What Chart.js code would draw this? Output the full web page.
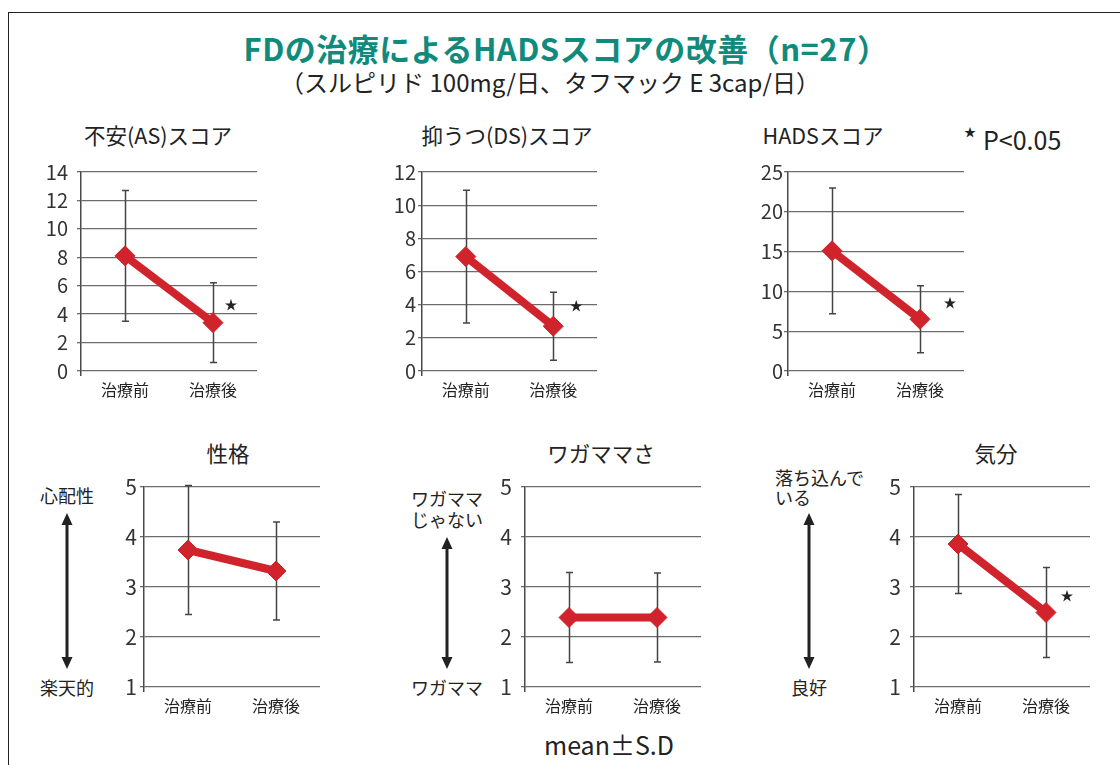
<!DOCTYPE html>
<html lang="ja">
<head>
<meta charset="utf-8">
<title>FDの治療によるHADSスコアの改善</title>
<script src="https://cdn.jsdelivr.net/npm/chart.js@4.4.1/dist/chart.umd.min.js"></script>
<style>
  html, body { margin: 0; padding: 0; background: #fff; }
  body {
    width: 1120px; height: 765px; position: relative; overflow: hidden;
    font-family: 'Noto Sans CJK JP', 'Noto Sans', sans-serif; color: #222;
  }
  .frame {
    position: absolute; left: 8px; top: 12px; width: 1140px; height: 800px;
    border: 1.5px solid #222; box-sizing: border-box;
  }
  .t { position: absolute; white-space: nowrap; line-height: 1; transform: translate(-50%, -50%); }
  .l { position: absolute; white-space: nowrap; line-height: 1; transform: translate(0, -50%); }
  .main { font-size: 31px; font-weight: 700; color: #108a7c; letter-spacing: 0.5px; }
  .sub { font-size: 24px; color: #222; }
  .ptitle { font-size: 21.5px; color: #222; }
  .note { font-size: 18px; color: #222; }
  .wrap { position: absolute; }
  svg.arrows { position: absolute; left: 0; top: 0; }
</style>
</head>
<body>
<div class="frame"></div>

<div class="t main" style="left:566px; top:47px;">FDの治療によるHADSスコアの改善（n=27）</div>
<div class="t sub" style="left:550px; top:82px;">（スルピリド 100mg/日、タフマック E 3cap/日）</div>

<div class="t ptitle" style="left:158px; top:135px;">不安(AS)スコア</div>
<div class="t ptitle" style="left:507px; top:135px;">抑うつ(DS)スコア</div>
<div class="t ptitle" style="left:823px; top:135px;">HADSスコア</div>
<div class="l" style="left:964px; top:132px; font-size:12px;">★</div>
<div class="l" style="left:983px; top:139px; font-size:25px;">P&lt;0.05</div>

<div class="t ptitle" style="left:228px; top:453px;">性格</div>
<div class="t ptitle" style="left:601px; top:453px;">ワガママさ</div>
<div class="t ptitle" style="left:996px; top:453px;">気分</div>

<div class="t note" style="left:67px; top:495px;">心配性</div>
<div class="t note" style="left:67px; top:687px;">楽天的</div>
<div class="t note" style="left:447px; top:498px;">ワガママ</div>
<div class="t note" style="left:447px; top:519px;">じゃない</div>
<div class="t note" style="left:447px; top:687px;">ワガママ</div>
<div class="l note" style="left:775px; top:477px;">落ち込んで</div>
<div class="l note" style="left:775px; top:497px;">いる</div>
<div class="t note" style="left:809px; top:687px;">良好</div>

<div class="t" style="left:609px; top:744px; font-size:25px;">mean±S.D</div>

<svg class="arrows" width="1120" height="765" viewBox="0 0 1120 765">
  <g fill="#222" stroke="#222">
    <line x1="67" y1="520" x2="67" y2="662" stroke-width="3"/>
    <path d="M67 513 L61.5 525 L72.5 525 Z" stroke="none"/>
    <path d="M67 669 L61.5 657 L72.5 657 Z" stroke="none"/>
    <line x1="447" y1="544" x2="447" y2="662" stroke-width="3"/>
    <path d="M447 537 L441.5 549 L452.5 549 Z" stroke="none"/>
    <path d="M447 669 L441.5 657 L452.5 657 Z" stroke="none"/>
    <line x1="809" y1="520" x2="809" y2="662" stroke-width="3"/>
    <path d="M809 513 L803.5 525 L814.5 525 Z" stroke="none"/>
    <path d="M809 669 L803.5 657 L814.5 657 Z" stroke="none"/>
  </g>
</svg>

<div class="wrap" id="w1"><canvas id="c1"></canvas></div>
<div class="wrap" id="w2"><canvas id="c2"></canvas></div>
<div class="wrap" id="w3"><canvas id="c3"></canvas></div>
<div class="wrap" id="w4"><canvas id="c4"></canvas></div>
<div class="wrap" id="w5"><canvas id="c5"></canvas></div>
<div class="wrap" id="w6"><canvas id="c6"></canvas></div>

<script>
// Categories (before / after treatment)
const categories = ['治療前', '治療後'];

// 不安 (AS) score: mean and SD
const asMean = [8.1, 3.4];
const asSd = [4.6, 2.8];

// 抑うつ (DS) score
const dsMean = [6.9, 2.7];
const dsSd = [4.0, 2.05];

// HADS total score
const hadsMean = [15.1, 6.5];
const hadsSd = [7.9, 4.2];

// 性格 (1 = 楽天的 … 5 = 心配性)
const personalityMean = [3.74, 3.32];
const personalitySd = [1.29, 0.98];

// ワガママさ (1 = ワガママ … 5 = ワガママじゃない)
const selfishMean = [2.39, 2.39];
const selfishSd = [0.9, 0.89];

// 気分 (1 = 良好 … 5 = 落ち込んでいる)
const moodMean = [3.86, 2.49];
const moodSd = [0.99, 0.9];

// y axis ranges
const asTicks = { min: 0, max: 14, step: 2 };
const dsTicks = { min: 0, max: 12, step: 2 };
const hadsTicks = { min: 0, max: 25, step: 5 };
const likertTicks = { min: 1, max: 5, step: 1 };

// significance marks (p<0.05): category index and height in data units
const asStar = { index: 1, value: 4.7 };
const dsStar = { index: 1, value: 4.0 };
const hadsStar = { index: 1, value: 8.6 };
const moodStar = { index: 1, value: 2.84 };

const RED = '#d0232c';
const GRID = '#6c6c6c';
const AXIS = '#4a4a4a';
const BAR = '#444';
const FONT = "'Noto Sans CJK JP', 'Noto Sans', sans-serif";

// Error bars (mean ± SD) under the line, significance star on top
const meanSdPlugin = {
  id: 'meanSd',
  beforeDatasetsDraw(chart, args, opts) {
    const { ctx, scales: { x, y } } = chart;
    const means = chart.data.datasets[0].data;
    ctx.save();
    ctx.strokeStyle = BAR;
    ctx.lineWidth = 1.5;
    means.forEach((m, i) => {
      const px = Math.round(x.getPixelForValue(i)) + 0.5;
      const top = y.getPixelForValue(m + opts.sd[i]);
      const bot = y.getPixelForValue(m - opts.sd[i]);
      ctx.beginPath();
      ctx.moveTo(px, top); ctx.lineTo(px, bot);
      ctx.moveTo(px - 3.5, top); ctx.lineTo(px + 3.5, top);
      ctx.moveTo(px - 3.5, bot); ctx.lineTo(px + 3.5, bot);
      ctx.stroke();
    });
    ctx.restore();
  },
  afterDatasetsDraw(chart, args, opts) {
    if (!opts.star) return;
    const { ctx, scales: { x, y } } = chart;
    ctx.save();
    ctx.fillStyle = '#222';
    ctx.font = '13px ' + FONT;
    ctx.textAlign = 'center';
    ctx.textBaseline = 'middle';
    ctx.fillText('★', x.getPixelForValue(opts.star.index) + opts.starDx, y.getPixelForValue(opts.star.value));
    ctx.restore();
  }
};
Chart.register(meanSdPlugin);

// box: plot-area left edge / top edge / width / height in page pixels
function drawPanel(id, box, means, sds, range, star, opt) {
  const padLeft = 60, padTop = 30, padRight = 45, xAxisH = 40;
  const wrap = document.getElementById('w' + id);
  const canvas = document.getElementById('c' + id);
  const W = padLeft + box.w + padRight;
  const H = padTop + box.h + xAxisH;
  wrap.style.left = (box.x - padLeft) + 'px';
  wrap.style.top = (box.y - padTop) + 'px';
  wrap.style.width = W + 'px';
  wrap.style.height = H + 'px';
  canvas.width = W; canvas.height = H;
  canvas.style.width = W + 'px'; canvas.style.height = H + 'px';

  return new Chart(canvas, {
    type: 'line',
    data: {
      labels: categories,
      datasets: [{
        data: means,
        borderColor: RED,
        backgroundColor: RED,
        borderWidth: 8,
        tension: 0,
        pointStyle: 'rectRot',
        pointRadius: 10,
        pointBorderWidth: 1,
        pointBorderColor: RED,
        pointBackgroundColor: RED,
        clip: false
      }]
    },
    options: {
      responsive: false,
      animation: false,
      devicePixelRatio: 1,
      events: [],
      layout: { padding: { top: padTop, right: padRight, left: 0, bottom: 0 } },
      plugins: {
        legend: { display: false },
        tooltip: { enabled: false },
        meanSd: { sd: sds, star: star, starDx: opt.starDx || 20 }
      },
      scales: {
        x: {
          type: 'category',
          offset: true,
          grid: {
            offset: true,
            drawOnChartArea: false,
            tickLength: 5,
            lineWidth: 1.5,
            color: (c) => c.index === 0 ? AXIS : 'rgba(0,0,0,0)'
          },
          border: { display: false },
          ticks: { color: '#222', font: { size: 16, family: FONT }, padding: 4 },
          afterFit(s) { s.height = xAxisH; }
        },
        y: {
          min: range.min,
          max: range.max,
          ticks: {
            stepSize: range.step,
            color: '#333',
            font: { size: opt.tickSize, family: FONT },
            padding: opt.tickPad
          },
          grid: { color: GRID, lineWidth: 1.3, tickLength: 4 },
          border: { display: true, color: AXIS, width: 1.5 },
          afterFit(s) { s.width = padLeft; }
        }
      }
    }
  });
}

drawPanel(1, { x: 81, y: 172, w: 176, h: 199 }, asMean, asSd, asTicks, asStar, { tickSize: 20, tickPad: 9, starDx: 18 });
drawPanel(2, { x: 422, y: 172, w: 175, h: 199 }, dsMean, dsSd, dsTicks, dsStar, { tickSize: 20, tickPad: 2, starDx: 23 });
drawPanel(3, { x: 788, y: 172, w: 176, h: 199 }, hadsMean, hadsSd, hadsTicks, hadsStar, { tickSize: 20, tickPad: 1, starDx: 30 });
drawPanel(4, { x: 144, y: 487, w: 176, h: 200 }, personalityMean, personalitySd, likertTicks, null, { tickSize: 21, tickPad: 3, starDx: 20 });
drawPanel(5, { x: 525, y: 487, w: 176, h: 200 }, selfishMean, selfishSd, likertTicks, null, { tickSize: 21, tickPad: 9, starDx: 20 });
drawPanel(6, { x: 914, y: 487, w: 176, h: 200 }, moodMean, moodSd, likertTicks, moodStar, { tickSize: 21, tickPad: 9, starDx: 21 });
</script>
</body>
</html>
